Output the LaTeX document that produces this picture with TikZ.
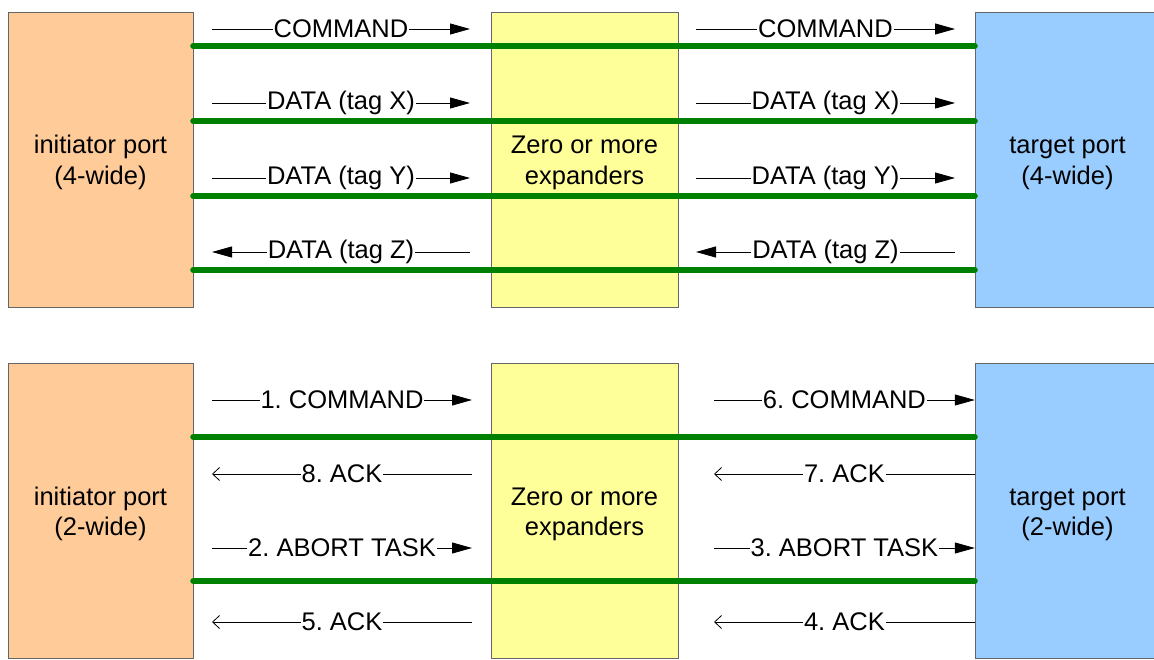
\documentclass[tikz,border=0pt]{standalone}
\usepackage{fontspec}
\setmainfont{Liberation Sans}
\frenchspacing
\usetikzlibrary{arrows.meta,positioning}
\definecolor{initfill}{HTML}{FFCC99}
\definecolor{expfill}{HTML}{FFFF99}
\definecolor{tgtfill}{HTML}{99CCFF}
\definecolor{linkgreen}{HTML}{008000}
\newcommand{\portfont}{\fontsize{25.5}{30.6}\selectfont}
\tikzset{
	portbox/.style={draw=black!60, minimum width=185pt, minimum height=295pt, align=center, inner sep=0pt, font=\portfont},
	link/.style={draw=linkgreen, line width=6pt, line cap=round},
	req/.style={-{Triangle[length=20pt,width=11pt]}, line width=0.8pt},
	ack/.style={-{Straight Barb[length=7pt,width=13pt]}, line width=0.8pt},
	msg/.style={fill=white, inner sep=1pt, font=\portfont}
}

\begin{document}
\begin{tikzpicture}[x=1pt, y=-1pt]
	\clip (0,0) rectangle (1154,660);
	\useasboundingbox (0,0) rectangle (1154,660);
	% 4-wide link
	\node[portbox, fill=initfill] (init4) at (100.5,159.5) {\\[-6pt]initiator port\\(4-wide)};
	\node[portbox, fill=expfill, minimum width=187pt] (exp4) at (584.5,159.5) {\\[-6pt]Zero or more\\expanders};
	\node[portbox, fill=tgtfill] (tgt4) at (1067.5,159.5) {\\[-6pt]target port\\(4-wide)};
	% 2-wide link
	\node[portbox, fill=initfill, below=56pt of init4] (init2) {\\[-6pt]initiator port\\(2-wide)};
	\node[portbox, fill=expfill, minimum width=187pt, below=56pt of exp4] (exp2) {\\[-6pt]Zero or more\\expanders};
	\node[portbox, fill=tgtfill, below=56pt of tgt4] (tgt2) {\\[-6pt]target port\\(2-wide)};
	% physical links
	\foreach \y in {46,121,196,270}
		\draw[link] (init4.east |- 0,\y) -- (tgt4.west |- 0,\y);
	\foreach \y in {437,581}
		\draw[link] (init2.east |- 0,\y) -- (tgt2.west |- 0,\y);
	% frames on the 4-wide link
	\foreach \y/\txt in {29/COMMAND, 103/DATA (tag X), 178/DATA (tag Y)}{
		\coordinate (a) at (212,\y); \coordinate (b) at (470,\y);
		\coordinate (c) at (696,\y); \coordinate (d) at (955,\y);
		\draw[req] (a) -- node[msg] {\txt} (b);
		\draw[req] (c) -- node[msg] {\txt} (d);
	}
	\coordinate (a) at (212,252); \coordinate (b) at (470,252);
	\coordinate (c) at (696,252); \coordinate (d) at (955,252);
	\draw[req] (b) -- node[msg] {DATA (tag Z)} (a);
	\draw[req] (d) -- node[msg] {DATA (tag Z)} (c);
	% frames on the 2-wide link
	\foreach \y/\ltxt/\rtxt in {400/1. COMMAND/6. COMMAND, 548/2. ABORT TASK/3. ABORT TASK}{
		\coordinate (a) at (212,\y); \coordinate (b) at (472,\y);
		\coordinate (c) at (714,\y);
		\draw[req] (a) -- node[msg] {\ltxt} (b);
		\draw[req] (c) -- node[msg] {\rtxt} (tgt2.west |- c);
	}
	\foreach \y/\ltxt/\rtxt in {474/8. ACK/7. ACK, 622/5. ACK/4. ACK}{
		\coordinate (a) at (212,\y); \coordinate (b) at (472,\y);
		\coordinate (c) at (714,\y);
		\draw[ack] (b) -- node[msg] {\ltxt} (a);
		\draw[ack] (tgt2.west |- c) -- node[msg] {\rtxt} (c);
	}
\end{tikzpicture}
\end{document}
